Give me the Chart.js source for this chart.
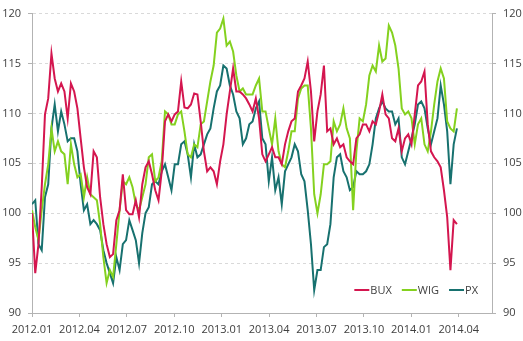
<!DOCTYPE html>
<html>
<head>
<meta charset="utf-8">
<script src="https://cdn.jsdelivr.net/npm/chart.js@4.4.1/dist/chart.umd.min.js"></script>
<style>
  html, body { margin: 0; padding: 0; background: #fff; }
  #wrap { width: 523px; height: 341px; }
</style>
</head>
<body>
<div id="wrap"><canvas id="indexChart" width="523" height="341"></canvas></div>
<script>
// ----------------------------------------------------
// data (roughly weekly, month 0 = 2012.01)
// ----------------------------------------------------
const quarterLabels = ['2012.01', '2012.04', '2012.07', '2012.10', '2013.01', '2013.04', '2013.07', '2013.10', '2014.01', '2014.04'];
const seriesNames = ['BUX', 'WIG', 'PX'];
const stepMonth = 0.2052;   // spacing of the samples, in months
const axisEndMonth = 29.1;  // x axis runs a bit past the last sample

const bux = [
  100.0, 94.0, 96.9, 102.6, 109.9, 111.5, 116.0, 113.5, 112.2, 113.0, 112.2, 109.5, 113.0, 112.2, 110.5, 107.5, 104.6, 102.6, 101.9, 106.2, 105.6, 101.6, 98.9, 96.9,
  95.6, 95.9, 99.3, 100.3, 103.9, 100.3, 99.9, 99.9, 101.3, 99.6, 102.9, 104.6, 105.2, 103.9, 102.3, 101.3, 104.2, 109.2, 109.9, 109.2, 109.9, 110.2, 113.2, 110.6,
  110.5, 110.9, 112.0, 111.9, 109.2, 106.2, 104.2, 104.6, 104.2, 102.9, 105.2, 106.9, 109.9, 112.2, 114.5, 112.2, 112.2, 111.9, 111.5, 110.9, 110.2, 111.5, 109.5, 105.9,
  105.2, 105.9, 106.6, 105.6, 105.6, 104.9, 106.9, 108.2, 109.2, 109.5, 112.2, 112.8, 113.5, 115.2, 112.2, 107.2, 110.2, 111.9, 114.8, 108.2, 108.5, 106.9, 107.5, 106.6,
  106.9, 105.6, 105.2, 104.9, 107.5, 107.9, 108.9, 108.9, 108.2, 109.2, 108.9, 110.2, 111.9, 109.9, 109.5, 107.5, 107.2, 108.5, 106.2, 107.5, 107.9, 106.9, 109.9, 112.8,
  113.2, 114.2, 108.9, 106.2, 105.6, 105.2, 104.6, 102.3, 99.6, 94.3, 99.3, 98.9
];
const wig = [
  100.3, 98.6, 97.3, 100.3, 102.9, 104.9, 108.5, 106.2, 107.2, 106.2, 105.9, 102.9, 106.9, 104.9, 103.6, 103.9, 101.6, 103.6, 101.9, 101.6, 101.3, 98.9, 95.6, 93.0,
  94.3, 93.6, 96.9, 100.3, 103.2, 102.9, 103.6, 102.6, 100.9, 100.3, 101.6, 102.9, 105.6, 105.9, 103.2, 103.6, 105.2, 110.2, 109.9, 108.9, 108.9, 109.9, 110.2, 108.2,
  105.9, 105.6, 106.9, 106.6, 108.9, 109.2, 111.2, 113.2, 114.8, 118.1, 118.5, 119.5, 116.8, 117.2, 116.2, 113.8, 112.2, 112.5, 111.9, 111.9, 111.9, 112.8, 113.5, 110.2,
  110.2, 108.5, 106.9, 109.5, 106.2, 104.9, 104.6, 106.2, 108.2, 108.2, 111.5, 112.5, 112.8, 112.8, 108.5, 101.9, 100.0, 101.9, 104.9, 104.9, 105.2, 109.2, 108.2, 108.9,
  110.5, 108.5, 107.5, 100.3, 106.2, 109.5, 109.2, 110.9, 113.8, 114.8, 114.2, 116.8, 115.2, 115.5, 118.8, 118.1, 116.8, 114.5, 110.5, 109.9, 110.2, 109.5, 106.9, 108.9,
  109.5, 106.9, 106.2, 108.2, 110.9, 113.2, 114.5, 113.5, 109.2, 108.5, 108.2, 110.5
];
const px = [
  100.9, 101.3, 96.9, 96.3, 101.6, 102.9, 108.5, 110.9, 108.2, 110.2, 108.9, 107.2, 107.5, 107.5, 106.2, 102.9, 100.3, 100.9, 98.9, 99.3, 98.9, 98.3, 96.3, 95.0,
  94.0, 93.0, 95.6, 94.3, 96.9, 97.3, 99.3, 98.3, 97.3, 95.0, 98.0, 100.0, 100.6, 102.9, 103.2, 102.9, 104.2, 104.9, 103.6, 102.3, 104.9, 104.9, 106.9, 107.2,
  105.9, 103.6, 106.9, 105.6, 105.9, 106.9, 107.9, 108.5, 110.5, 112.2, 112.8, 114.8, 114.5, 112.8, 111.9, 110.2, 109.5, 106.9, 107.5, 108.9, 109.2, 110.5, 111.2, 107.5,
  106.9, 103.2, 105.6, 102.3, 103.6, 100.9, 104.2, 104.9, 105.6, 106.9, 106.2, 103.9, 103.2, 100.3, 96.9, 92.3, 94.3, 94.3, 96.6, 96.9, 98.9, 103.6, 105.6, 105.9,
  104.2, 103.6, 102.3, 102.6, 104.2, 103.9, 103.9, 104.2, 104.9, 106.9, 109.5, 110.5, 111.2, 110.5, 110.2, 110.2, 108.9, 109.5, 105.6, 104.9, 106.2, 107.5, 108.9, 110.9,
  111.2, 110.5, 108.5, 106.9, 108.2, 109.5, 112.8, 110.9, 108.2, 102.9, 106.9, 108.5
];

const seriesColors = ['#d4164f', '#84d11f', '#17716f'];
const textColor = '#404040';
const axisColor = '#b3b3b3';
const fontSpec = { family: '"Open Sans", "Noto Sans", sans-serif', size: 11 };

function toPoints(values) {
  return values.map((v, i) => ({ x: i * stepMonth, y: v }));
}

// legend drawn inside the plot, bottom right
const insideLegend = {
  id: 'insideLegend',
  afterDatasetsDraw(chart) {
    const { ctx, chartArea } = chart;
    ctx.save();
    ctx.font = '11px "Open Sans", "Noto Sans", sans-serif';
    ctx.textBaseline = 'middle';
    const lineLen = 15, gap = 1, spacing = 10;
    const items = chart.data.datasets.map(ds => ({ label: ds.label, color: ds.borderColor, w: ctx.measureText(ds.label).width }));
    const total = items.reduce((s, it) => s + lineLen + gap + it.w, 0) + spacing * (items.length - 1);
    let x = chartArea.right - 14 - total;
    const y = chartArea.bottom - 23;
    items.forEach(it => {
      ctx.strokeStyle = it.color;
      ctx.lineWidth = 2;
      ctx.beginPath();
      ctx.moveTo(x, y);
      ctx.lineTo(x + lineLen, y);
      ctx.stroke();
      x += lineLen + gap;
      ctx.fillStyle = textColor;
      ctx.fillText(it.label, x, y + 1);
      x += it.w + spacing;
    });
    ctx.restore();
  }
};

const yAxisBase = {
  min: 90,
  max: 120,
  ticks: { stepSize: 5, color: textColor, font: fontSpec, padding: 7 },
  border: { color: axisColor, width: 1 }
};

new Chart(document.getElementById('indexChart'), {
  type: 'line',
  data: {
    datasets: [bux, wig, px].map((vals, i) => ({
      label: seriesNames[i],
      data: toPoints(vals),
      borderColor: seriesColors[i],
      backgroundColor: seriesColors[i],
      borderWidth: 2,
      pointRadius: 0,
      tension: 0,
      fill: false
    }))
  },
  options: {
    responsive: false,
    animation: false,
    devicePixelRatio: 1,
    layout: { padding: { top: 12, left: 0, right: 0, bottom: 0 } },
    plugins: { legend: { display: false }, tooltip: { enabled: false } },
    scales: {
      x: {
        type: 'linear',
        min: 0,
        max: axisEndMonth,
        afterBuildTicks: axis => { axis.ticks = quarterLabels.map((_, i) => ({ value: i * 3 })); },
        afterFit: scale => { scale.height = 28; },
        ticks: {
          color: textColor, font: fontSpec, padding: 6, maxRotation: 0, autoSkip: false,
          callback: v => quarterLabels[Math.round(v / 3)]
        },
        grid: { drawOnChartArea: false, drawTicks: true, tickLength: 4, color: axisColor },
        border: { color: axisColor, width: 1 }
      },
      y: {
        ...yAxisBase,
        position: 'left',
        afterFit: scale => { scale.width = 32; },
        grid: { color: '#d9d9d9', tickColor: axisColor, tickLength: 4, drawTicks: true },
        border: { color: axisColor, width: 1, dash: [3, 3] }
      },
      y2: {
        ...yAxisBase,
        position: 'right',
        afterFit: scale => { scale.width = 31; },
        grid: { drawOnChartArea: false, color: axisColor, tickLength: 4, drawTicks: true }
      }
    }
  },
  plugins: [insideLegend]
});
</script>
</body>
</html>
